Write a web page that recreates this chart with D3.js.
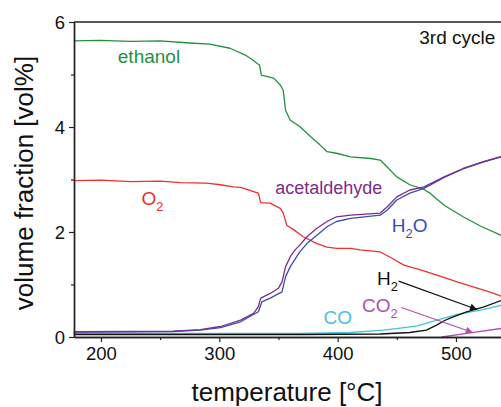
<!DOCTYPE html>
<html><head><meta charset="utf-8">
<script src="https://cdn.jsdelivr.net/npm/d3@7"></script>
<style>
body{margin:0;background:#fff}
svg{display:block}
text{font-family:"Liberation Sans",Arial,Helvetica,sans-serif}
</style>
</head><body>
<svg id="c" width="501" height="407"></svg>
<script>
// ---- data (temperature °C, volume fraction vol%) ----
const ethanolT = [177,199,225,250,275,292,309,322,328,332,334,335.5,346,351.5,354,356,360,368,377,385,391,399,411,428,436,440,450,461,473,478,490,506,521,539];
const ethanolV = [5.64,5.65,5.63,5.64,5.60,5.58,5.50,5.37,5.28,5.21,5.18,4.99,4.93,4.80,4.70,4.32,4.13,4.01,3.82,3.66,3.53,3.50,3.43,3.40,3.37,3.28,3.05,2.90,2.81,2.74,2.51,2.29,2.11,1.93];
const o2T = [177,200,225,250,267,289,301,312,318,329,333,335,343,351.5,354,357,363,371,382.5,391,399,411,419,436,446,456,470,484,501,518,532,539];
const o2V = [2.98,2.99,2.96,2.97,2.94,2.93,2.90,2.86,2.85,2.77,2.74,2.56,2.55,2.45,2.36,2.13,2.04,1.91,1.78,1.71,1.69,1.69,1.66,1.62,1.50,1.37,1.28,1.18,1.05,0.93,0.83,0.77];
const acetT = [177,225,261,284,301,318,329,333,335,343,350,353,356,360,364,368,374,382.5,391,399,411,436,442,450,461,473,490,506,523,539];
const acetV = [0.10,0.105,0.11,0.14,0.20,0.32,0.45,0.58,0.74,0.83,0.93,1.05,1.34,1.53,1.66,1.75,1.91,2.07,2.20,2.29,2.32,2.36,2.48,2.67,2.80,2.86,3.05,3.21,3.34,3.44];
const h2oT = [177,261,284,301,318,333,336,343,353,356,360,368,374,382.5,391,399,411,436,442,450,461,473,490,506,523,539];
const h2oV = [0.095,0.105,0.13,0.18,0.29,0.48,0.67,0.74,0.86,1.15,1.34,1.62,1.78,1.94,2.10,2.20,2.26,2.32,2.42,2.61,2.74,2.83,3.04,3.20,3.33,3.44];
const coT = [177,284,368,411,439,453,467,473,484,501,523,539];
const coV = [0.067,0.067,0.07,0.086,0.13,0.17,0.21,0.25,0.32,0.43,0.52,0.61];
const h2T = [177,368,436,461,475,484,490,495,509,523,539];
const h2V = [0.048,0.048,0.057,0.086,0.13,0.23,0.31,0.36,0.48,0.57,0.70];
const co2T = [488,512,539];
const co2V = [0.0,0.08,0.165];

const xMajor = [200,300,400,500];
const xMinor = [250,350,450,550];
const yMajor = [0,2,4,6];
const yMinor = [1,3,5];

(function draw() {
// ---- layout ----
const svg = d3.select("#c");
const mLeft = 74, mTop = 22, mBottom = 337;
const x = d3.scaleLinear().domain([177.2, 600]).range([mLeft, mLeft + (600-177.2)*1.1833]);
const y = d3.scaleLinear().domain([0, 6]).range([mBottom, mTop]);
const axisColor = "#222";
const fmt = d3.format("d");

// curves
const series = [
  {t: ethanolT, v: ethanolV, c: "#22903f"},
  {t: o2T, v: o2V, c: "#ee3030"},
  {t: coT, v: coV, c: "#45c3dc"},
  {t: h2T, v: h2V, c: "#111"},
  {t: co2T, v: co2V, c: "#b24db2"},
  {t: h2oT, v: h2oV, c: "#3b4eb0"},
  {t: acetT, v: acetV, c: "#7c2c8c"}
];
const line = d3.line().x(d => x(d[0])).y(d => y(d[1]));
const g = svg.append("g");
series.forEach(s => {
  g.append("path")
    .datum(s.t.map((t,i) => [t, s.v[i]]))
    .attr("d", line)
    .attr("fill", "none")
    .attr("stroke", s.c)
    .attr("stroke-width", 1.3)
    .attr("stroke-linejoin", "round");
});

// axes
const xAxis = svg.append("g").attr("transform", `translate(0,${mBottom})`)
  .call(d3.axisBottom(x).tickValues(xMajor).tickFormat(fmt).tickSize(5).tickSizeOuter(0).tickPadding(4));
const xAxisMinor = svg.append("g").attr("transform", `translate(0,${mBottom})`)
  .call(d3.axisBottom(x).tickValues(xMinor).tickSize(3).tickSizeOuter(0).tickFormat(""));
const yAxis = svg.append("g").attr("transform", `translate(${mLeft},0)`)
  .call(d3.axisLeft(y).tickValues(yMajor).tickFormat(fmt).tickSize(5).tickSizeOuter(0).tickPadding(4));
const yAxisMinor = svg.append("g").attr("transform", `translate(${mLeft},0)`)
  .call(d3.axisLeft(y).tickValues(yMinor).tickSize(3).tickSizeOuter(0).tickFormat(""));
[xAxis, xAxisMinor, yAxis, yAxisMinor].forEach(a => {
  a.select(".domain").attr("stroke", axisColor).attr("stroke-width", 1.4);
  a.selectAll(".tick line").attr("stroke", axisColor).attr("stroke-width", 1.2);
  a.selectAll(".tick text").attr("fill", "#111").style("font-size", "18.5px")
    .style("font-family", '"Liberation Sans",Arial,sans-serif');
});
xAxis.selectAll(".tick text").attr("dy", "0.75em");
yAxis.selectAll(".tick text").attr("dy", "0.35em");
// top frame line
svg.append("line").attr("x1", mLeft).attr("x2", 600).attr("y1", mTop).attr("y2", mTop)
  .attr("stroke", axisColor).attr("stroke-width", 1.4);

// axis titles
svg.append("text").attr("x", 287).attr("y", 401).attr("text-anchor", "middle")
  .style("font-size", "26px").attr("fill", "#111").text("temperature [°C]");
svg.append("text").attr("transform", "translate(33,183) rotate(-90)").attr("text-anchor", "middle")
  .style("font-size", "26px").attr("fill", "#111").text("volume fraction [vol%]");

// labels
function label(t, v, main, sub, color, size, after) {
  const tx = svg.append("text").attr("x", x(t)).attr("y", y(v)).attr("fill", color).style("font-size", size + "px");
  tx.append("tspan").text(main);
  if (sub) {
    tx.append("tspan").attr("dy", size*0.32).style("font-size", (size*0.68) + "px").text(sub);
    if (after) tx.append("tspan").attr("dy", -size*0.32).text(after);
  }
}
label(214.2, 5.22, "ethanol", null, "#22903f", 19);
label(469, 5.575, "3rd cycle", null, "#111", 19);
label(234.2, 2.51, "O", "2", "#ee3030", 19);
label(347.3, 2.73, "acetaldehyde", null, "#7c2c8c", 18);
label(445.8, 2.0, "H", "2", "#3b4eb0", 19, "O");
label(433.2, 0.99, "H", "2", "#111", 19);
label(420.6, 0.48, "CO", "2", "#b24db2", 19);
label(388.1, 0.25, "CO", null, "#45c3dc", 19);

// arrows
const defs = svg.append("defs");
[["ah-k", "#111"], ["ah-m", "#b24db2"]].forEach(([id, c]) => {
  defs.append("marker").attr("id", id).attr("viewBox", "0 0 10 10").attr("refX", 10).attr("refY", 5)
    .attr("markerWidth", 10).attr("markerHeight", 7).attr("markerUnits", "userSpaceOnUse").attr("orient", "auto")
    .append("path").attr("d", "M0,0L10,5L0,10Z").attr("fill", c);
});
svg.append("line").attr("x1", x(451.5)).attr("y1", y(1.065)).attr("x2", x(517.8)).attr("y2", y(0.524))
  .attr("stroke", "#111").attr("stroke-width", 1.2).attr("marker-end", "url(#ah-k)");
svg.append("line").attr("x1", x(453.8)).attr("y1", y(0.562)).attr("x2", x(514.2)).attr("y2", y(0.086))
  .attr("stroke", "#b24db2").attr("stroke-width", 1.2).attr("marker-end", "url(#ah-m)");
})();
</script>
</body></html>
